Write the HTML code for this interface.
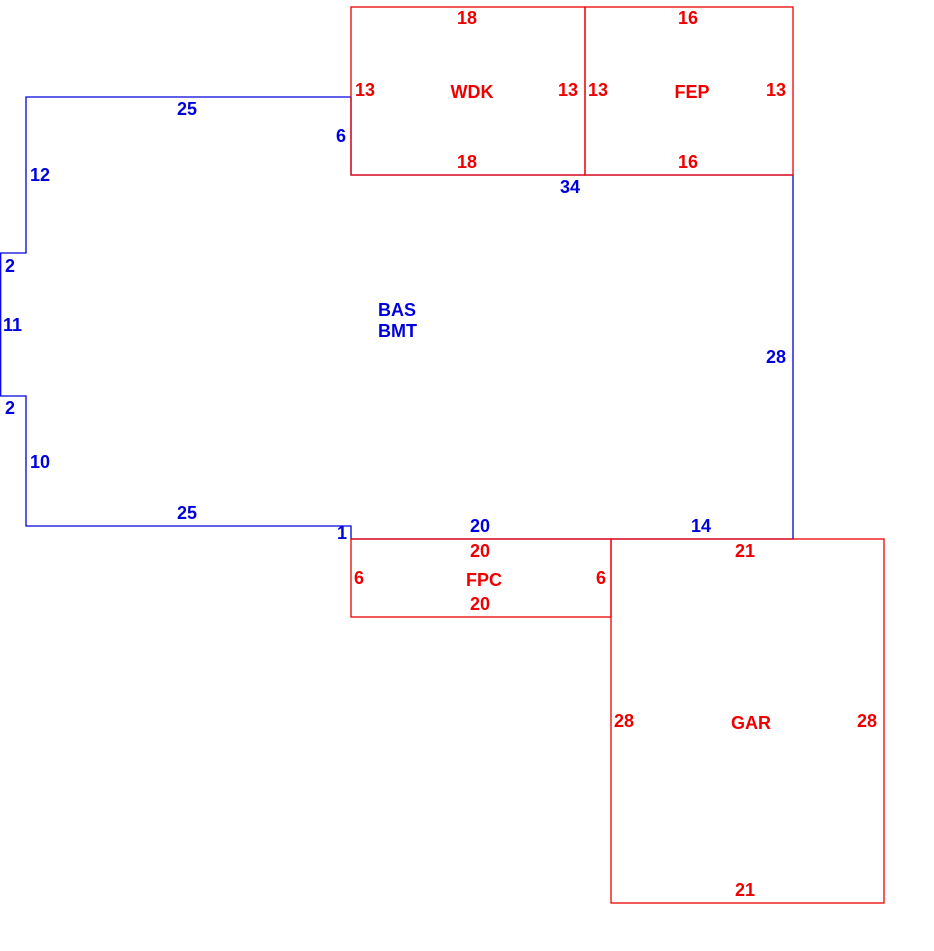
<!DOCTYPE html>
<html><head><meta charset="utf-8"><style>
html,body{margin:0;padding:0;background:#fff;}
svg{display:block;}
text{font-family:"Liberation Sans",Arial,sans-serif;font-weight:bold;font-size:18px;}
.b{fill:#0000dd;} .r{fill:#ee0000;}
</style></head><body>
<svg width="934" height="951" viewBox="0 0 934 951" xmlns="http://www.w3.org/2000/svg">
<g fill="none" stroke-width="1.3">
<polyline stroke="#0000dd" points="351,97 26,97 26,253 0.7,253 0.7,396 26,396 26,526 351,526 351,539 793,539 793,175 351,175 351,97"/>
<rect stroke="#ee0000" x="351" y="7" width="234" height="168"/>
<rect stroke="#ee0000" x="585" y="7" width="208" height="168"/>
<rect stroke="#ee0000" x="351" y="539" width="260" height="78"/>
<rect stroke="#ee0000" x="611" y="539" width="273" height="364"/>
</g>
<g class="b">
<text x="187" y="115" text-anchor="middle">25</text>
<text x="30" y="181">12</text>
<text x="5" y="272">2</text>
<text x="3" y="331">11</text>
<text x="5" y="414">2</text>
<text x="30" y="468">10</text>
<text x="187" y="519" text-anchor="middle">25</text>
<text x="337" y="539">1</text>
<text x="480" y="532" text-anchor="middle">20</text>
<text x="701" y="532" text-anchor="middle">14</text>
<text x="766" y="363">28</text>
<text x="570" y="193" text-anchor="middle">34</text>
<text x="336" y="142">6</text>
<text x="378" y="316">BAS</text>
<text x="378" y="337">BMT</text>
</g>
<g class="r">
<text x="467" y="24" text-anchor="middle">18</text>
<text x="467" y="168" text-anchor="middle">18</text>
<text x="355" y="96">13</text>
<text x="558" y="96">13</text>
<text x="472" y="98" text-anchor="middle">WDK</text>
<text x="688" y="24" text-anchor="middle">16</text>
<text x="688" y="168" text-anchor="middle">16</text>
<text x="588" y="96">13</text>
<text x="766" y="96">13</text>
<text x="692" y="98" text-anchor="middle">FEP</text>
<text x="480" y="557" text-anchor="middle">20</text>
<text x="480" y="610" text-anchor="middle">20</text>
<text x="354" y="584">6</text>
<text x="596" y="584">6</text>
<text x="484" y="586" text-anchor="middle">FPC</text>
<text x="745" y="557" text-anchor="middle">21</text>
<text x="745" y="896" text-anchor="middle">21</text>
<text x="614" y="727">28</text>
<text x="857" y="727">28</text>
<text x="751" y="729" text-anchor="middle">GAR</text>
</g>
</svg>
</body></html>
